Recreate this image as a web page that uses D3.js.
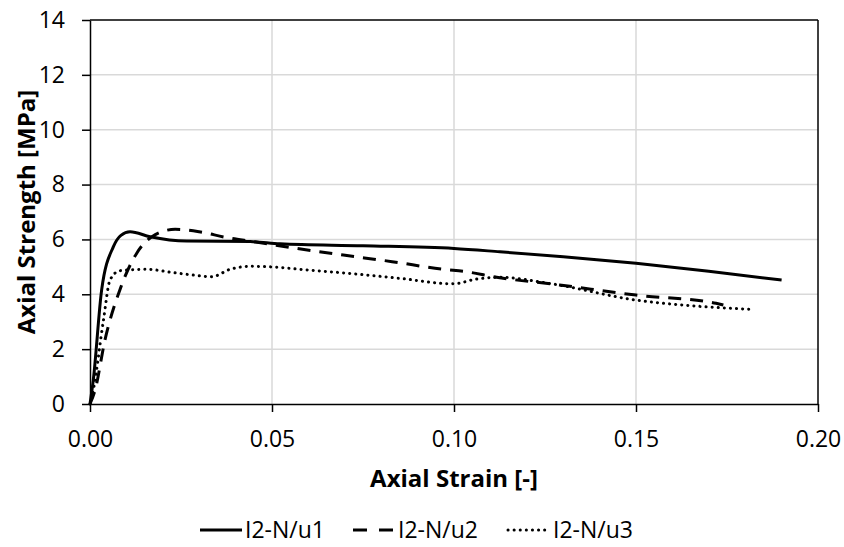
<!DOCTYPE html>
<html>
<head>
<meta charset="utf-8">
<script src="https://cdn.jsdelivr.net/npm/d3@7"></script>
<style>
  body { margin: 0; background: #fff; }
  text { font-family: "Open Sans", sans-serif; fill: #000; }
</style>
</head>
<body>
<div id="chart"></div>
<script>
// series: [strain, stress]
const u1 = [[0,0],[0.0009,0.87],[0.0032,4.16],[0.0064,5.73],[0.0085,6.15],[0.011,6.28],[0.0165,6.10],[0.0266,5.94],[0.044,5.92],[0.0522,5.84],[0.075,5.77],[0.1,5.67],[0.1126,5.55],[0.13,5.37],[0.15,5.13],[0.17,4.84],[0.19,4.52]];
const u2 = [[0,0],[0.0014,0.51],[0.0041,2.33],[0.0082,4.16],[0.0128,5.49],[0.017,6.10],[0.0234,6.37],[0.030,6.28],[0.0375,6.07],[0.0448,5.92],[0.0568,5.67],[0.0696,5.43],[0.083,5.19],[0.097,4.91],[0.1035,4.82],[0.1108,4.64],[0.129,4.34],[0.150,3.97],[0.172,3.67],[0.174,3.61]];
const u3 = [[0,0],[0.0009,0.51],[0.0037,3.06],[0.0055,4.52],[0.0082,4.86],[0.0156,4.91],[0.0229,4.79],[0.0284,4.70],[0.0334,4.64],[0.0385,4.91],[0.044,5.02],[0.052,4.98],[0.0577,4.91],[0.0714,4.76],[0.0852,4.58],[0.0998,4.38],[0.106,4.55],[0.1126,4.62],[0.126,4.40],[0.150,3.79],[0.1685,3.55],[0.182,3.45]];
const seriesNames = ["I2-N/u1", "I2-N/u2", "I2-N/u3"];
const xTicks = [0, 0.05, 0.10, 0.15, 0.20];
const yTicks = [0, 2, 4, 6, 8, 10, 12, 14];

const width = 844, height = 547;
const plotLeft = 90, plotRight = 818, plotTop = 20, plotBottom = 404;

const svg = d3.select("#chart").append("svg")
    .attr("width", width)
    .attr("height", height);

const xScale = d3.scaleLinear().domain([0, 0.2]).range([plotLeft, plotRight]);
const yScale = d3.scaleLinear().domain([0, 14]).range([plotBottom, plotTop]);

// gridlines
svg.append("g").selectAll("line").data(yTicks.slice(1, -1)).join("line")
    .attr("x1", plotLeft).attr("x2", plotRight)
    .attr("y1", d => yScale(d)).attr("y2", d => yScale(d))
    .attr("stroke", "#d9d9d9").attr("stroke-width", 1.5);
svg.append("g").selectAll("line").data(xTicks.slice(1, -1)).join("line")
    .attr("y1", plotTop).attr("y2", plotBottom)
    .attr("x1", d => xScale(d)).attr("x2", d => xScale(d))
    .attr("stroke", "#d9d9d9").attr("stroke-width", 1.5);

// box (top and right edges)
svg.append("line").attr("x1", plotLeft).attr("x2", plotRight).attr("y1", plotTop).attr("y2", plotTop)
    .attr("stroke", "#000").attr("stroke-width", 1.5);
svg.append("line").attr("x1", plotRight).attr("x2", plotRight).attr("y1", plotTop).attr("y2", plotBottom)
    .attr("stroke", "#000").attr("stroke-width", 1.5);

// axes
const yAxis = svg.append("g")
    .attr("transform", "translate(" + plotLeft + ",0)")
    .call(d3.axisLeft(yScale).tickValues(yTicks).tickSize(8).tickSizeOuter(0).tickPadding(17));
const xAxis = svg.append("g")
    .attr("transform", "translate(0," + plotBottom + ")")
    .call(d3.axisBottom(xScale).tickValues(xTicks).tickFormat(d3.format(".2f")).tickSize(8).tickSizeOuter(0).tickPadding(19));
[xAxis, yAxis].forEach(a => {
    a.select(".domain").attr("stroke", "#000").attr("stroke-width", 1.5);
    a.selectAll(".tick line").attr("stroke", "#000").attr("stroke-width", 1.5);
    a.selectAll(".tick text").style("font-size", "23px").style("font-family", "'Open Sans', sans-serif").attr("fill", "#000");
});

// axis titles
svg.append("text")
    .attr("x", 454).attr("y", 487)
    .attr("text-anchor", "middle")
    .style("font-size", "24px").style("font-weight", "bold")
    .text("Axial Strain [-]");
svg.append("text")
    .attr("transform", "translate(35," + ((plotTop + plotBottom) / 2) + ") rotate(-90)")
    .attr("text-anchor", "middle")
    .style("font-size", "24px").style("font-weight", "bold")
    .text("Axial Strength [MPa]");

// lines
const lineFunction = d3.line()
    .x(d => xScale(d[0]))
    .y(d => yScale(d[1]))
    .curve(d3.curveMonotoneX);

const styles = [
    { dash: null, cap: "butt" },
    { dash: "13,9", cap: "butt" },
    { dash: "0.1,6", cap: "round" }
];
[u1, u2, u3].forEach((s, i) => {
    svg.append("path")
        .datum(s)
        .attr("d", lineFunction)
        .attr("fill", "none")
        .attr("stroke", "#000")
        .attr("stroke-width", 3)
        .attr("stroke-linecap", styles[i].cap)
        .attr("stroke-dasharray", styles[i].dash);
});

// legend
const legendX = [200, 353, 508];
const legend = svg.append("g");
seriesNames.forEach((name, i) => {
    legend.append("line")
        .attr("x1", legendX[i]).attr("x2", legendX[i] + 42)
        .attr("y1", 530).attr("y2", 530)
        .attr("stroke", "#000").attr("stroke-width", 3)
        .attr("stroke-linecap", styles[i].cap)
        .attr("stroke-dasharray", i === 1 ? "14,12" : styles[i].dash);
    legend.append("text")
        .attr("x", legendX[i] + 45).attr("y", 538)
        .style("font-size", "23px")
        .text(name);
});
</script>
</body>
</html>
